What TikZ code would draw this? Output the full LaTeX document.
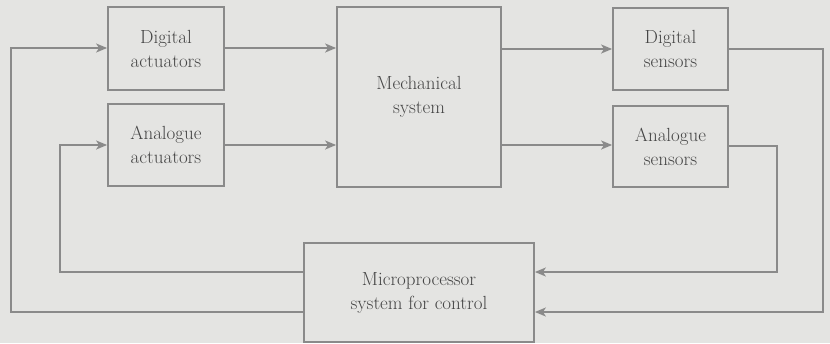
\documentclass[tikz,border=0pt]{standalone}
\usepackage{fontspec}
\setmainfont{Latin Modern Roman}
\usetikzlibrary{arrows.meta}
\definecolor{bg}{HTML}{E4E4E2}
\definecolor{ln}{HTML}{8A8A8A}
\definecolor{tx}{HTML}{454545}
\begin{document}
\begin{tikzpicture}[x=1pt,y=-1pt,
  blk/.style={draw=ln,line width=1.8pt,fill=bg,text=tx,align=center,inner sep=0pt,font=\fontsize{19}{24}\selectfont},
  conn/.style={draw=ln,line width=1.8pt,-{Stealth[length=11pt,width=9pt,inset=3pt]}}]
\fill[bg] (0,0) rectangle (830,343);
\useasboundingbox (0,0) rectangle (830,343);
\node[blk,minimum width=116pt,minimum height=83pt] (da) at (166,48.5) {Digital\\actuators};
\node[blk,minimum width=116pt,minimum height=82pt] (aa) at (166,145) {Analogue\\actuators};
\node[blk,minimum width=164pt,minimum height=180pt] (ms) at (419,97) {Mechanical\\system};
\node[blk,minimum width=115pt,minimum height=82pt] (ds) at (670.5,49) {Digital\\sensors};
\node[blk,minimum width=115pt,minimum height=81pt] (as) at (670.5,146.5) {Analogue\\sensors};
\node[blk,minimum width=230pt,minimum height=99pt] (mp) at (419,292.5) {Microprocessor\\system for control};
\coordinate (l1) at (11,312);
\coordinate (l2) at (60,272);
\coordinate (r1) at (823,312);
\coordinate (r2) at (777,272);
\draw[conn] (da.east |- 0,48) -- (ms.west |- 0,48);
\draw[conn] (aa.east |- 0,145) -- (ms.west |- 0,145);
\draw[conn] (ms.east |- 0,49) -- (ds.west |- 0,49);
\draw[conn] (ms.east |- 0,145) -- (as.west |- 0,145);
\draw[conn] (ds.east |- 0,49) -| (r1) -- (mp.east |- r1);
\draw[conn] (as.east |- 0,146) -| (r2) -- (mp.east |- r2);
\draw[conn] (mp.west |- l1) -- (l1) |- (da.west |- 0,48);
\draw[conn] (mp.west |- l2) -- (l2) |- (aa.west |- 0,145);
\end{tikzpicture}
\end{document}
